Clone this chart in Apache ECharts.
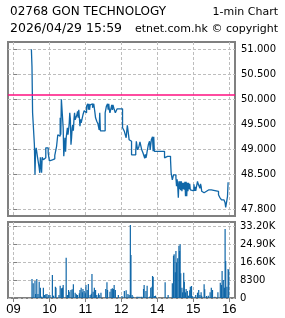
<!DOCTYPE html>
<html>
<head>
<meta charset="utf-8">
<script src="https://cdn.jsdelivr.net/npm/echarts@6/dist/echarts.min.js"></script>
<style>html,body{margin:0;padding:0;background:#fff;}#c{width:285px;height:318px;}</style>
</head>
<body>
<div id="c"></div>
<script>
// ---- data (minutes of trading since 09:00, lunch break removed: 180 = 12:00/13:00) ----
const tickMinutes = [0, 60, 120, 180, 240, 300, 360];
const tickLabels  = ['09', '10', '11', '12', '14', '15', '16'];
const priceTicks  = [47.8, 48.5, 49, 49.5, 50, 50.5, 51];
const volumeTicks = [0, 8300, 16600, 24900, 33200];
const prevClose   = 50.10;

const priceMinute = [30,31,32,33,35,36,37,38,40,43,44,45,47,48,50,52,54,58,60,62,65,69,72,74,76,78,79,80,82,83,84,86,87,88,89,90,91,92,93,94,95,96,97,98,99,100,101,102,103,104,105,106,107,108,109,110,111,112,113,114,116,118,120,122,124,125,126,127,128,130,132,134,136,137,139,141,143,144,145,153,155,157,158,159,160,161,162,164,165,166,167,168,170,171,173,182,185,188,189,190,192,193,195,197,204,205,207,209,211,213,214,216,218,219,220,221,222,223,225,227,228,230,232,233,234,235,252,253,257,258,262,263,265,267,271,272,273,274,275,276,277,278,279,280,281,282,283,284,285,286,287,288,289,290,291,292,293,294,295,296,301,302,303,304,307,308,310,311,312,313,314,316,318,322,324,326,328,330,342,344,346,347,351,353,354,357,358];
const price = [51.00,50.65,49.73,49.69,49.09,48.49,48.96,49.03,48.86,48.63,48.53,48.84,48.53,48.84,48.79,48.83,49.03,48.93,48.77,48.79,48.81,48.88,49.06,49.29,49.26,49.63,49.29,50.00,49.96,49.43,48.86,49.23,48.95,49.23,49.19,49.43,49.29,49.26,49.50,49.73,49.60,49.09,49.23,49.43,49.49,49.37,49.60,49.73,49.59,49.63,49.56,49.69,49.76,49.63,49.79,49.63,49.46,49.60,49.53,49.56,49.69,49.77,49.73,49.86,49.91,49.79,49.91,49.79,49.89,49.91,49.83,49.91,49.73,49.63,49.56,49.51,49.39,49.73,49.37,49.73,49.86,49.91,49.79,49.91,49.79,49.73,49.76,49.89,49.79,49.89,49.90,49.80,49.73,49.75,49.81,49.43,49.36,49.23,49.36,49.48,49.29,49.19,49.16,48.89,48.96,49.16,48.99,49.04,49.15,49.12,48.99,48.93,48.96,48.82,48.90,48.83,48.88,48.96,49.09,49.16,48.99,49.19,49.25,48.96,49.25,48.96,48.83,48.86,48.89,48.86,48.79,48.53,48.39,48.49,48.43,48.26,48.40,48.26,48.03,48.36,48.20,48.36,48.18,48.36,48.16,48.33,48.20,48.33,48.19,48.35,48.06,48.35,48.06,48.33,48.16,48.33,48.20,48.31,48.19,48.17,48.30,48.17,48.25,48.17,48.36,48.31,48.28,48.22,48.31,48.26,48.16,48.13,48.16,48.14,48.19,48.17,48.19,48.16,48.09,48.04,48.06,47.99,47.97,47.93,47.84,48.06,48.34];

const volMinute = [31,33,36,37,39,41,43,45,47,50,52,54,56,59,61,65,67,70,71,76,78,80,82,83,88,90,92,93,96,98,100,103,105,107,110,111,113,115,116,118,120,121,123,125,128,130,131,133,135,137,139,142,143,146,154,156,157,161,163,165,167,168,170,175,181,185,188,191,193,195,196,198,200,206,208,211,214,217,218,221,223,227,229,231,232,233,235,237,253,258,265,267,268,270,271,272,274,276,277,278,279,281,282,284,285,287,288,290,292,294,295,297,298,301,304,307,309,311,313,314,318,319,322,325,328,330,332,336,341,345,347,348,350,352,353,354,356,358,359];
const volume = [8760,6760,7840,1840,8760,1840,7530,4760,610,4760,1380,1690,1840,1380,1380,10600,1080,5230,4760,1380,5690,4460,4760,6000,18600,1380,3690,2920,3690,4000,6300,2460,1690,1380,2150,3690,4760,2610,4150,3230,2150,6000,3690,6450,1380,2000,11070,2920,4760,3690,1380,2150,1380,2460,4150,7220,3690,2920,4150,4460,4150,6000,3690,1380,920,3230,3540,1840,1380,33660,19830,1380,610,610,610,610,610,4150,6000,3230,5690,610,4760,5230,10140,9680,920,1080,7220,1380,6760,19520,20130,11830,21670,16450,18290,24130,21670,24750,11370,4760,2610,11680,7530,2610,4150,3230,1080,3540,5230,5530,920,610,1380,2460,3690,1380,2610,1080,6300,4000,920,1080,2610,4760,3690,610,2610,7070,6000,12450,8300,4760,31820,17060,5230,13370,12910];

// ---- chart ----
const BLUE = '#1067a8';
const PINK = '#ff0f80';
const GRIDC = '#bdbdbd';
const BORDER = '#808080';
const xMin = -9, xMax = 369.5;

const chart = echarts.init(document.getElementById('c'), null, {renderer: 'canvas', width: 285, height: 318});

const splitStyle = {show: true, lineStyle: {color: GRIDC, width: 1, type: [3, 2]}};

chart.setOption({
  animation: false,
  backgroundColor: '#fff',
  grid: [
    {left: 8, top: 42, width: 227, height: 174, show: true, borderColor: BORDER, borderWidth: 2, backgroundColor: 'transparent'},
    {left: 8, top: 222, width: 227, height: 76, show: true, borderColor: BORDER, borderWidth: 2, backgroundColor: 'transparent'}
  ],
  xAxis: [
    {
      gridIndex: 0, type: 'value', min: xMin, max: xMax,
      axisLine: {show: false},
      axisTick: {show: false, customValues: tickMinutes},
      axisLabel: {show: false, customValues: tickMinutes},
      splitLine: splitStyle
    },
    {
      gridIndex: 1, type: 'value', min: xMin, max: xMax,
      axisLine: {show: false},
      axisTick: {show: true, length: 4, inside: false, customValues: tickMinutes, lineStyle: {color: BORDER, width: 1}},
      axisLabel: {
        show: true, customValues: tickMinutes, margin: 5,
        fontFamily: '"Liberation Sans Narrow", "Liberation Sans", sans-serif', fontSize: 13, color: '#000',
        formatter: function (v) { const i = tickMinutes.indexOf(Math.round(v)); return i >= 0 ? tickLabels[i] : ''; }
      },
      splitLine: splitStyle
    }
  ],
  yAxis: [
    {
      gridIndex: 0, type: 'value', position: 'right', min: 47.666, max: 51.146, scale: true,
      axisLine: {show: false},
      axisTick: {show: true, length: 4, customValues: priceTicks, lineStyle: {color: BORDER}},
      axisLabel: {
        show: true, customValues: priceTicks, margin: 6,
        fontFamily: '"DejaVu Sans", sans-serif', fontSize: 10, color: '#000',
        formatter: function (v) { return v.toFixed(3); }
      },
      splitLine: splitStyle
    },
    {
      gridIndex: 1, type: 'value', position: 'right', min: 0, max: 35044,
      axisLine: {show: false},
      axisTick: {show: true, length: 4, customValues: volumeTicks, lineStyle: {color: BORDER}},
      axisLabel: {
        show: true, customValues: volumeTicks, margin: 5,
        fontFamily: '"DejaVu Sans", sans-serif', fontSize: 10, color: '#000',
        formatter: function (v) { return v >= 10000 ? (v / 1000).toFixed(2) + 'K' : String(v); }
      },
      splitLine: splitStyle
    }
  ],
  series: [
    {
      type: 'line', xAxisIndex: 0, yAxisIndex: 0,
      data: priceMinute.map((m, i) => [m, price[i]]),
      step: 'end', showSymbol: false, symbol: 'none',
      lineStyle: {color: BLUE, width: 1.3},
      markLine: {
        silent: true, symbol: 'none', label: {show: false},
        lineStyle: {color: PINK, width: 1.5, type: 'solid'},
        data: [{yAxis: prevClose}]
      },
      z: 3
    },
    {
      type: 'bar', xAxisIndex: 1, yAxisIndex: 1,
      data: volMinute.map((m, i) => [m, volume[i]]),
      barWidth: 1.2, itemStyle: {color: BLUE},
      large: false
    }
  ],
  graphic: [
    {type: 'text', x: 10, y: 12, style: {text: '02768 GON TECHNOLOGY', fontFamily: 'DejaVu Sans', fontSize: 12, fill: '#000', textAlign: 'left', align: 'left', textVerticalAlign: 'middle', verticalAlign: 'middle'}},
    {type: 'text', x: 278, y: 12, style: {text: '1-min Chart', fontFamily: 'DejaVu Sans', fontSize: 11, fill: '#000', textAlign: 'right', align: 'right', textVerticalAlign: 'middle', verticalAlign: 'middle'}},
    {type: 'text', x: 10, y: 29, style: {text: '2026/04/29 15:59', fontFamily: 'DejaVu Sans', fontSize: 12.5, fill: '#000', textAlign: 'left', align: 'left', textVerticalAlign: 'middle', verticalAlign: 'middle'}},
    {type: 'text', x: 278, y: 29, style: {text: 'etnet.com.hk © copyright', fontFamily: 'DejaVu Sans', fontSize: 11, fill: '#000', textAlign: 'right', align: 'right', textVerticalAlign: 'middle', verticalAlign: 'middle'}}
  ]
});
</script>
</body>
</html>
